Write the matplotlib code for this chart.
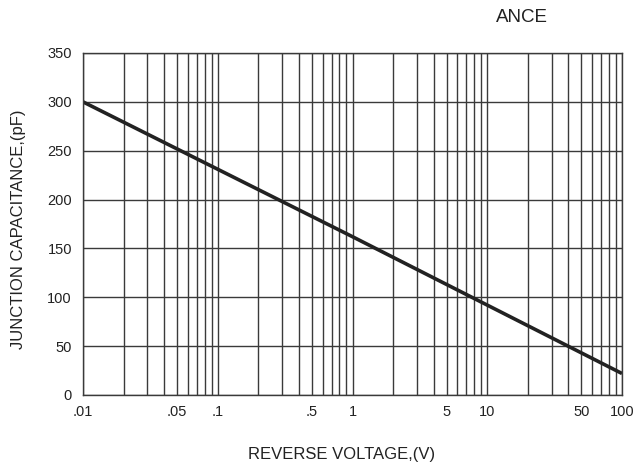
import matplotlib
matplotlib.use('Agg')
import matplotlib.pyplot as plt
import matplotlib.ticker as mticker
import numpy as np

LINE = '#222222'
GRID = '#3a3a3a'
TEXT = '#222222'

voltage = [0.01, 0.1, 1, 10, 100]
capacitance = [300, 231, 162, 92, 22]
xtick_vals = [0.01, 0.05, 0.1, 0.5, 1, 5, 10, 50, 100]
xtick_labels = ['.01', '.05', '.1', '.5', '1', '5', '10', '50', '100']
ytick_vals = [0, 50, 100, 150, 200, 250, 300, 350]

plt.rcParams['font.family'] = ['Liberation Sans', 'DejaVu Sans']

fig = plt.figure(figsize=(6.42, 4.68), dpi=100)
fig.patch.set_facecolor('#FFFFFF')
ax = fig.add_axes([83 / 642, 1 - 395 / 468, (622 - 83) / 642, (395 - 53) / 468])

ax.set_xscale('log')
ax.set_xlim(0.01, 100)
ax.set_ylim(0, 350)

ax.plot(voltage, capacitance, color=LINE, linewidth=2.6, solid_capstyle='butt')

ax.xaxis.set_major_locator(mticker.FixedLocator(xtick_vals))
ax.xaxis.set_major_formatter(mticker.FixedFormatter(xtick_labels))
ax.xaxis.set_minor_locator(mticker.LogLocator(base=10, subs=np.arange(1, 10)))
ax.xaxis.set_minor_formatter(mticker.NullFormatter())
ax.set_yticks(ytick_vals)

ax.grid(which='both', axis='x', color=GRID, linewidth=1.0)
ax.grid(which='major', axis='y', color=GRID, linewidth=1.0)
ax.tick_params(which='both', length=0, labelsize=10.5, colors=TEXT)
ax.tick_params(axis='y', pad=8)
ax.tick_params(axis='x', pad=7)
for s in ax.spines.values():
    s.set_color(GRID)
    s.set_linewidth(1.0)

# axis titles placed in figure pixels to match the reference layout
fig.text(342 / 642, 1 - 455 / 468, 'REVERSE VOLTAGE,(V)', fontsize=12, color=TEXT,
         ha='center', va='center')
fig.text(19 / 642, 1 - 229 / 468, 'JUNCTION CAPACITANCE,(pF)', fontsize=12, color=TEXT,
         ha='center', va='center', rotation=90)
fig.text(522 / 642, 1 - 18 / 468, 'ANCE', fontsize=13.5, color=TEXT, ha='center', va='center')

fig.savefig('out.png', dpi=100, facecolor='#FFFFFF')
